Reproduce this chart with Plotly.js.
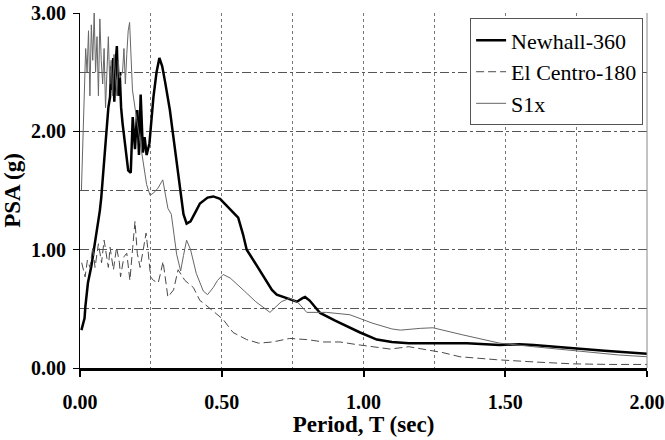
<!DOCTYPE html>
<html>
<head>
<meta charset="utf-8">
<script src="https://cdn.plot.ly/plotly-3.0.1.min.js"></script>
<style>html,body{margin:0;padding:0;background:#fff;}#chart{width:665px;height:440px;}</style>
</head>
<body>
<div id="chart"></div>
<script>
// Newhall-360
const newhallT = [
  0.005,0.016,0.019,0.028,0.04,0.046,0.063,0.07,0.075,0.087,
  0.094,0.1,0.106,0.11,0.113,0.117,0.121,0.125,0.13,0.135,
  0.14,0.145,0.15,0.16,0.17,0.179,0.186,0.194,0.202,0.208,
  0.214,0.222,0.228,0.235,0.245,0.259,0.27,0.28,0.29,0.3,
  0.317,0.335,0.353,0.365,0.376,0.39,0.41,0.423,0.45,0.47,
  0.494,0.51,0.53,0.558,0.575,0.588,0.6,0.64,0.677,0.694,
  0.73,0.765,0.785,0.794,0.81,0.847,0.9,0.95,0.988,1.047,
  1.1,1.16,1.25,1.365,1.48,1.55,1.6,1.72,1.85,2.0];
const newhallPSA = [
  0.32,0.42,0.52,0.72,0.86,0.95,1.21,1.33,1.44,1.80,
  2.05,2.2,2.29,2.55,2.35,2.62,2.25,2.55,2.72,2.3,
  2.5,2.2,2.07,1.85,1.67,1.65,2.12,1.85,2.18,1.8,
  2.31,1.82,1.95,1.80,1.90,2.29,2.5,2.62,2.55,2.42,
  2.18,1.85,1.50,1.30,1.22,1.24,1.33,1.39,1.44,1.45,
  1.43,1.39,1.34,1.27,1.13,1.0,0.955,0.80,0.66,0.62,
  0.59,0.56,0.59,0.60,0.57,0.465,0.40,0.34,0.30,0.24,
  0.22,0.21,0.21,0.21,0.195,0.20,0.195,0.17,0.145,0.12];

// El Centro-180
const elcentroT = [
  0.006,0.018,0.026,0.035,0.045,0.053,0.065,0.076,0.085,0.1,
  0.106,0.118,0.129,0.139,0.143,0.155,0.165,0.176,0.186,0.194,
  0.202,0.212,0.221,0.233,0.241,0.249,0.259,0.276,0.284,0.293,
  0.31,0.33,0.346,0.37,0.4,0.423,0.435,0.46,0.483,0.505,
  0.54,0.588,0.63,0.68,0.74,0.8,0.86,0.917,0.97,1.0,
  1.094,1.16,1.245,1.28,1.34,1.47,1.61,1.74,1.87,2.0];
const elcentroPSA = [
  0.89,0.77,0.91,0.85,1.02,0.85,1.05,0.89,1.08,0.85,
  1.02,0.83,1.02,0.89,0.77,0.94,0.97,0.74,1.02,1.24,
  0.97,0.85,0.97,1.14,0.97,0.77,0.74,0.72,0.80,0.90,
  0.60,0.66,0.83,0.74,0.68,0.57,0.55,0.50,0.46,0.41,
  0.30,0.24,0.21,0.22,0.25,0.24,0.22,0.22,0.20,0.19,
  0.16,0.18,0.145,0.13,0.095,0.07,0.05,0.035,0.03,0.03];

// S1x
const s1xT = [
  0.005,0.01,0.015,0.02,0.025,0.03,0.035,0.04,0.045,0.05,
  0.055,0.06,0.065,0.07,0.075,0.08,0.085,0.09,0.095,0.1,
  0.105,0.11,0.115,0.12,0.13,0.135,0.14,0.15,0.155,0.16,
  0.165,0.17,0.175,0.18,0.185,0.2,0.215,0.235,0.247,0.26,
  0.275,0.292,0.31,0.322,0.341,0.355,0.365,0.376,0.39,0.41,
  0.435,0.45,0.47,0.485,0.505,0.53,0.58,0.62,0.67,0.71,
  0.74,0.77,0.80,0.87,0.952,1.03,1.1,1.13,1.2,1.245,
  1.35,1.48,1.6,1.7,1.8,1.9,2.0];
const s1xPSA = [
  1.5,1.9,2.3,2.7,2.5,2.85,2.3,2.9,2.6,3.0,
  2.5,2.8,2.3,2.95,2.6,2.4,2.7,2.2,2.5,2.8,
  2.4,2.6,2.3,2.65,2.3,2.6,2.45,2.5,2.7,2.4,
  2.65,2.85,2.92,2.6,2.35,2.1,1.85,1.55,1.46,1.48,
  1.52,1.59,1.35,1.30,0.96,0.82,0.95,1.08,1.0,0.8,
  0.65,0.62,0.68,0.74,0.79,0.76,0.65,0.56,0.47,0.56,
  0.59,0.55,0.47,0.47,0.45,0.38,0.33,0.32,0.335,0.34,
  0.28,0.21,0.18,0.155,0.13,0.11,0.095];

const seriesNames = ['Newhall-360', 'El Centro-180', 'S1x'];
const xTickVals = [0, 0.5, 1.0, 1.5, 2.0];
const xTickText = ['0.00', '0.50', '1.00', '1.50', '2.00'];
const yTickVals = [0, 1, 2, 3];
const yTickText = ['0.00', '1.00', '2.00', '3.00'];

const FONT = 'Liberation Serif, Times New Roman, serif';

const traces = [
  {x: newhallT, y: newhallPSA, name: seriesNames[0], mode: 'lines',
   line: {color: '#000000', width: 2.5}},
  {x: elcentroT, y: elcentroPSA, name: seriesNames[1], mode: 'lines',
   line: {color: '#4a4a4a', width: 1, dash: '8px,4px'}},
  {x: s1xT, y: s1xPSA, name: seriesNames[2], mode: 'lines',
   line: {color: '#666666', width: 1}}
];

const layout = {
  width: 665, height: 440,
  margin: {l: 80, r: 18, t: 13, b: 72},
  paper_bgcolor: '#ffffff', plot_bgcolor: '#ffffff',
  font: {family: FONT, color: '#000', size: 18},
  showlegend: true,
  legend: {x: 0.688, y: 0.985, xanchor: 'left', yanchor: 'top',
    bgcolor: '#ffffff', bordercolor: '#555555', borderwidth: 1,
    font: {family: FONT, size: 22, color: '#000'}},
  xaxis: {
    range: [0, 2], tickvals: xTickVals, ticktext: xTickText,
    ticks: 'outside', ticklen: 6, tickwidth: 2, tickcolor: '#000',
    showline: true, linecolor: '#000', linewidth: 2.5,
    showgrid: true, gridcolor: '#777', gridwidth: 1, griddash: 'dot',
    minor: {dtick: 0.25, tick0: 0, showgrid: true, gridcolor: '#777', gridwidth: 1, griddash: 'dot'},
    zeroline: false, fixedrange: true, ticklabelstandoff: 8,
    tickfont: {family: FONT, size: 20, color: '#000', weight: 'bold'},
    title: {text: '<b>Period, T (sec)</b>', font: {family: FONT, size: 23, color: '#000'}, standoff: 2}
  },
  yaxis: {
    range: [0, 3], tickvals: yTickVals, ticktext: yTickText,
    ticks: 'outside', ticklen: 6, tickwidth: 1, tickcolor: '#000',
    showline: true, linecolor: '#000', linewidth: 1,
    showgrid: true, gridcolor: '#555', gridwidth: 1, griddash: 'dashdot',
    minor: {dtick: 0.5, tick0: 0, showgrid: true, gridcolor: '#555', gridwidth: 1, griddash: 'dashdot'},
    zeroline: false, fixedrange: true, ticklabelstandoff: 3,
    tickfont: {family: FONT, size: 20, color: '#000', weight: 'bold'},
    title: {text: '<b>PSA (g)</b>', font: {family: FONT, size: 23, color: '#000'}, standoff: 8}
  },
  shapes: [
    {type: 'line', xref: 'paper', yref: 'paper', x0: 1, x1: 1, y0: 0, y1: 1,
     line: {color: '#888', width: 1}}
  ]
};

Plotly.newPlot('chart', traces, layout, {displayModeBar: false, staticPlot: true});
</script>
</body>
</html>
